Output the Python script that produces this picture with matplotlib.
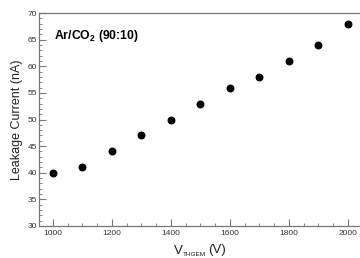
import matplotlib
matplotlib.use("Agg")
import matplotlib.pyplot as plt
from matplotlib.ticker import MultipleLocator

voltage = [1000, 1100, 1200, 1300, 1400, 1500, 1600, 1700, 1800, 1900, 2000]
current = [40, 41, 44, 47, 50, 53, 56, 58, 61, 64, 68]

plt.rcParams['font.family'] = ['Liberation Sans', 'DejaVu Sans']
plt.rcParams['mathtext.fontset'] = 'custom'
plt.rcParams['mathtext.rm'] = 'Liberation Sans'
plt.rcParams['mathtext.bf'] = 'Liberation Sans:bold'
plt.rcParams['mathtext.it'] = 'Liberation Sans:italic'
W, H = 360, 258
fig = plt.figure(figsize=(W/100, H/100), dpi=100)
left, right, top, bottom = 39, 362.5, 13, 226
ax = fig.add_axes([left/W, 1-bottom/H, (right-left)/W, (bottom-top)/H])
ax.scatter(voltage, current, s=22, color='black', zorder=3)
ax.set_xlim(953, 2050)
ax.set_ylim(30, 70)
ax.xaxis.set_major_locator(MultipleLocator(200))
ax.xaxis.set_minor_locator(MultipleLocator(50))
ax.yaxis.set_major_locator(MultipleLocator(5))
ax.yaxis.set_minor_locator(MultipleLocator(1))
gc = '#777777'
for s in ax.spines.values():
    s.set_color(gc)
    s.set_linewidth(0.9)
ax.tick_params(which='both', direction='in', colors=gc, labelcolor='#333333',
               top=False, right=False, labelsize=6)
ax.tick_params(which='major', length=5, width=0.8)
ax.tick_params(which='minor', length=2.5, width=0.6)
ax.tick_params(axis='x', pad=3)
ax.tick_params(axis='y', pad=1.5)
ax.set_ylabel('Leakage Current (nA)', fontsize=9, color='#222222', labelpad=3.5)
lc = '#222222'
fig.text(174/W, 1-253.5/H, 'V', fontsize=9.5, color=lc, va='baseline', ha='left')
fig.text(182.5/W, 1-256/H, 'THGEM', fontsize=4.6, color=lc, va='baseline', ha='left')
fig.text(208/W, 1-253.5/H, '(V)', fontsize=9.5, color=lc, va='baseline', ha='left')
ax.text(0.045, 0.93, r'Ar/CO$_{\mathbf{2}}$ (90:10)', transform=ax.transAxes,
        fontsize=8.8, fontweight='bold', va='top', ha='left')
fig.savefig('out.png', dpi=100)
